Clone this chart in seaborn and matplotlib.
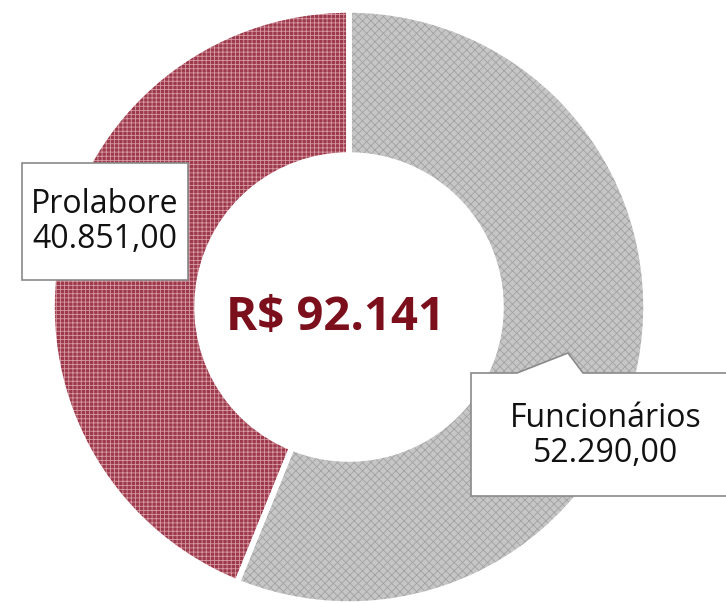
import matplotlib
matplotlib.use("Agg")
import matplotlib.pyplot as plt
from matplotlib.patches import Polygon, Rectangle
import seaborn as sns

# -----------------------
# Data
# -----------------------
categories = ["Funcionários", "Prolabore"]
values = [52290.00, 40851.00]
value_labels = ["52.290,00", "40.851,00"]
total_label = "R$ 92.141"

face_colors = ["#c6c6c6", "#9c3a4b"]
hatch_colors = ["#a2a2a2", "#d89aa5"]
hatches = ["xxxx", "++++"]

sns.set_theme(style="white")
plt.rcParams["font.family"] = ["Open Sans", "DejaVu Sans"]
plt.rcParams["hatch.linewidth"] = 0.6

W, H = 726, 603
fig = plt.figure(figsize=(W / 100, H / 100), dpi=100)
ax = fig.add_axes([0, 0, 1, 1])

center = (349, 296)
outer_r = 297
inner_r = 152

# textured wedges
wedges, _ = ax.pie(
    values,
    center=center,
    radius=outer_r,
    startangle=90,
    counterclock=False,
    colors=face_colors,
    wedgeprops=dict(width=outer_r - inner_r, linewidth=0),
    frame=True,
)
for w, hc, hp in zip(wedges, hatch_colors, hatches):
    w.set_hatch(hp)
    w.set_edgecolor(hc)
    w.set_linewidth(0)

# white separators
ax.pie(
    values,
    center=center,
    radius=outer_r,
    startangle=90,
    counterclock=False,
    colors=["none", "none"],
    wedgeprops=dict(width=outer_r - inner_r, edgecolor="white", linewidth=4),
    frame=True,
)
ax.set_xlim(0, W)
ax.set_ylim(0, H)
ax.set_aspect("equal")
ax.axis("off")

# center total
ax.text(
    335, 285, total_label,
    ha="center", va="center",
    fontsize=34, fontweight="bold", color="#7b0f1c"
)

# Prolabore label box
ax.add_patch(Rectangle(
    (22, 323), 166, 117,
    facecolor="white", edgecolor="#8a8a8a", linewidth=1.2, zorder=5
))
ax.text(
    105, 381, f"{categories[1]}\n{value_labels[1]}",
    ha="center", va="center", fontsize=23, color="#111111",
    linespacing=1.1, zorder=6
)

# Funcionários callout box
callout = [
    (471, 230), (517, 230), (568, 250), (583, 230),
    (730, 230), (730, 107), (471, 107),
]
ax.add_patch(Polygon(
    callout, closed=True,
    facecolor="white", edgecolor="#8a8a8a", linewidth=1.2, zorder=5
))
ax.text(
    606, 167, f"{categories[0]}\n{value_labels[0]}",
    ha="center", va="center", fontsize=23, color="#111111",
    linespacing=1.1, zorder=6
)

fig.savefig("out.png", dpi=100)
plt.close(fig)
